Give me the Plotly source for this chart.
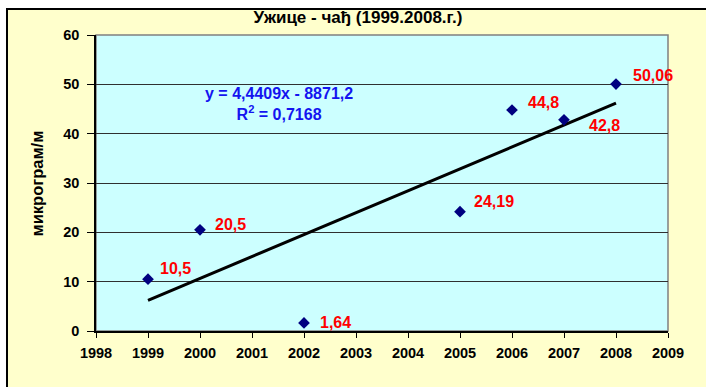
import numpy as np
import plotly.graph_objects as go

# Annual soot concentration, Užice
years = [1999, 2000, 2002, 2005, 2006, 2007, 2008]
values = [10.5, 20.5, 1.64, 24.19, 44.8, 42.8, 50.06]
x_ticks = list(range(1998, 2010))
y_ticks = [0, 10, 20, 30, 40, 50, 60]

# label offsets (px) for each data label
label_dx = [10, 13, 14, 12, 14, 23, 15]
label_dy = [11, 5, 0, 10, 7, -6, 9]

FONT = "Arial, Liberation Sans, sans-serif"

# linear trend
slope, intercept = np.polyfit(years, values, 1)
pred = np.polyval([slope, intercept], years)
ss_res = np.sum((np.array(values) - pred) ** 2)
ss_tot = np.sum((np.array(values) - np.mean(values)) ** 2)
r2 = 1 - ss_res / ss_tot


def comma(v, fmt):
    return format(v, fmt).replace(".", ",")


sign = "-" if intercept < 0 else "+"
eq_text = f"y = {comma(slope, '.4f')}x {sign} {comma(abs(intercept), '.1f')}<br>R<sup>2</sup> = {comma(r2, '.4f')}"

fig = go.Figure()

trend_x = [min(years), max(years)]
fig.add_trace(go.Scatter(
    x=trend_x, y=list(np.polyval([slope, intercept], trend_x)),
    mode="lines", line=dict(color="black", width=3), hoverinfo="skip",
))
fig.add_trace(go.Scatter(
    x=years, y=values, mode="markers",
    marker=dict(symbol="diamond", size=9, color="#000080"),
))

for x, v, dx, dy in zip(years, values, label_dx, label_dy):
    fig.add_annotation(
        x=x, y=v, xref="x", yref="y", text=f"<b>{format(v, 'g').replace('.', ',')}</b>",
        showarrow=False, xanchor="left", yanchor="middle", xshift=dx, yshift=dy,
        font=dict(family=FONT, size=16, color="#FF0000"),
    )

fig.add_annotation(
    x=2001.525, y=46.1, xref="x", yref="y", text=f"<b>{eq_text}</b>",
    showarrow=False, xanchor="center", yanchor="middle", align="center",
    font=dict(family=FONT, size=16, color="#1414F0"),
)

# y-axis title
fig.add_annotation(
    x=-0.1023, y=0.5, xref="paper", yref="paper", text="<b>микрограм/м</b>",
    textangle=-90, showarrow=False, xanchor="center", yanchor="middle",
    font=dict(family=FONT, size=16.5, color="black"),
)

# chart area and plot area backgrounds
fig.add_shape(type="rect", xref="paper", yref="paper", x0=-0.1556, x1=1.3, y0=-0.4, y1=1.0878,
              fillcolor="#FFFFCC", line=dict(color="black", width=2), layer="below")
fig.add_shape(type="rect", xref="paper", yref="paper", x0=0, x1=1, y0=0, y1=1,
              fillcolor="#CCFFFF", line=dict(color="#808080", width=1.5), layer="below")

fig.update_layout(
    width=706, height=387,
    margin=dict(l=96, r=38, t=35, b=56),
    paper_bgcolor="white", plot_bgcolor="rgba(0,0,0,0)",
    showlegend=False,
    title=dict(text="<b>Ужице - чађ (1999.2008.г.)</b>", xref="container", yref="container",
               x=0.507, y=1 - 17 / 387, xanchor="center", yanchor="middle",
               font=dict(family=FONT, size=17, color="black")),
    xaxis=dict(range=[1998, 2009], tickvals=x_ticks, showgrid=False, zeroline=False,
               showline=True, linecolor="black", linewidth=1.5,
               ticks="outside", ticklen=5, tickcolor="black", tickwidth=1,
               ticklabelstandoff=3,
               tickfont=dict(family=FONT, size=14.5, color="black", weight="bold")),
    yaxis=dict(range=[0, 60], tickvals=y_ticks, showgrid=True, gridcolor="#303030", gridwidth=1,
               zeroline=False, showline=True, linecolor="black", linewidth=1.5,
               ticks="outside", ticklen=7, tickcolor="black", tickwidth=1,
               ticklabelstandoff=5,
               tickfont=dict(family=FONT, size=14.5, color="black", weight="bold")),
)

fig.write_html("out.html")
